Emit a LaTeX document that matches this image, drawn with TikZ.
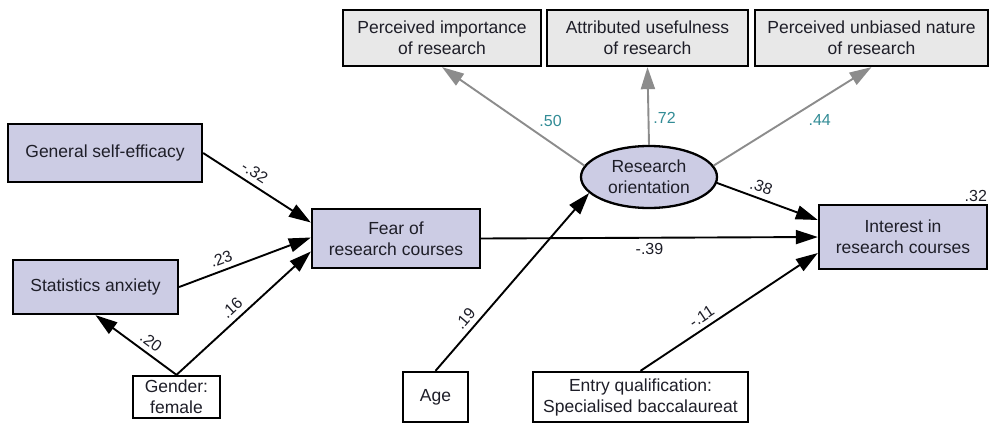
\documentclass[tikz,border=0pt]{standalone}
\usepackage{fontspec}
\setmainfont{Liberation Sans}
\usetikzlibrary{arrows.meta,shapes.geometric,positioning,calc}
\definecolor{boxfill}{RGB}{204,204,228}
\definecolor{indfill}{RGB}{232,232,232}
\definecolor{loadgray}{RGB}{140,140,140}
\definecolor{loadteal}{RGB}{50,140,150}
\definecolor{txt}{RGB}{30,30,40}
\newcommand{\coefsize}{\fontsize{16}{18}\selectfont}
\tikzset{
  var/.style={draw, line width=2.3pt, fill=boxfill, align=center, inner sep=0pt,
    text=txt, font=\fontsize{17.5}{21}\selectfont},
  exo/.style={var, fill=white},
  ind/.style={var, fill=indfill},
  lat/.style={var, ellipse},
  reg/.style={-{Triangle[length=22pt,width=14pt]}, line width=1.9pt},
  load/.style={reg, color=loadgray},
  coef/.style={font=\coefsize, text=txt, inner sep=5pt},
  ldg/.style={coef, text=loadteal, inner sep=4pt}
}

\begin{document}
\begin{tikzpicture}[x=1pt,y=-1pt]
\useasboundingbox (0,0) rectangle (991,423);
\fill[white] (0,0) rectangle (991,423);
%
\node[var, minimum width=194, minimum height=58] (gse)   at (105,153)   {General self-efficacy};
\node[var, minimum width=165, minimum height=54] (stat)  at (95.5,287)  {Statistics anxiety};
\node[exo, minimum width=87,  minimum height=42] (gen)   at (176.5,397) {Gender:\\female};
\node[var, minimum width=168, minimum height=59] (fear)  at (396,238.5) {Fear of\\research courses};
\node[lat, minimum width=136, minimum height=62] (ro)    at (649,177)   {Research\\orientation};
\node[ind, minimum width=198, minimum height=56] (imp)   at (442,38)    {Perceived importance\\of research};
\node[ind, minimum width=201, minimum height=56] (use)   at (647.5,38)  {Attributed usefulness\\of research};
\node[ind, minimum width=233, minimum height=56] (unb)   at (871.5,38)  {Perceived unbiased nature\\of research};
\node[var, minimum width=168, minimum height=64] (int)   at (903,237)   {Interest in\\research courses};
\node[exo, minimum width=65,  minimum height=50] (age)   at (435.5,397) {Age};
\node[exo, minimum width=215, minimum height=50] (entry) at (640.5,397) {Entry qualification:\\Specialised baccalaureat};
\node[coef, above left=-3pt and -4pt of int.north east] (r2) {.32};
%
\path[reg]
  (gse.east)    edge node[coef, sloped, above, pos=0.42] {-.32} ($(fear.west)+(0,-16)$)
  (stat.east)   edge node[coef, sloped, above, pos=0.35] {.23}  ($(fear.west)+(0,-1)$)
  (gen.north)   edge node[coef, sloped, above, pos=0.47] {.16}  ($(fear.west)+(0,13)$)
  (gen.north)   edge node[coef, sloped, above, pos=0.4]  {.20}  (stat.south)
  (fear.east)   edge node[coef, below]                   {-.39} (int.west)
  (age.north)   edge node[coef, sloped, above, pos=0.25] {.19}  (ro.195)
  (entry.north) edge node[coef, sloped, above, pos=0.38] {-.11} ($(int.west)+(0,16)$)
  (ro.-5)       edge node[coef, sloped, above, pos=0.4]  {.38}  ($(int.west)+(0,-17)$)
; %-path-%
\path[load]
  (ro.170)   edge node[ldg, pos=0.35, above right] {.50} (imp.south)
  (ro.north) edge node[ldg, pos=0.35, right]       {.72} (use.south)
  (ro.10)    edge node[ldg, pos=0.57, below right] {.44} (unb.south)
; %-path-%
\end{tikzpicture}
\end{document}
